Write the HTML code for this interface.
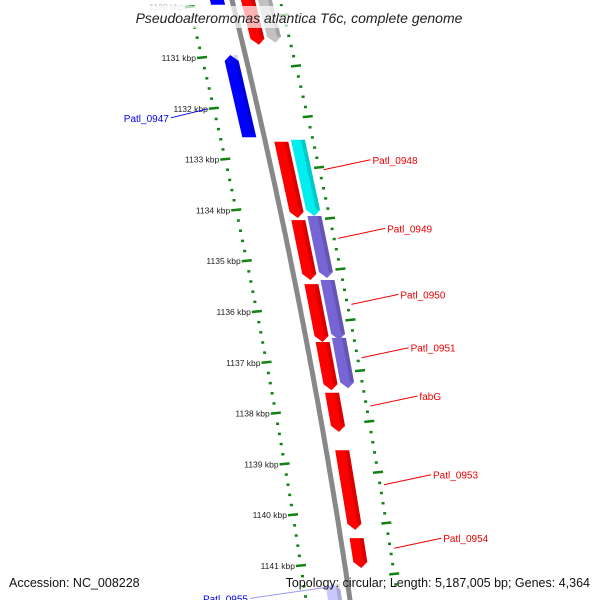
<!DOCTYPE html>
<html><head><meta charset="utf-8"><style>
html,body{margin:0;padding:0;background:#fff}
svg{display:block}
text{font-family:"Liberation Sans","DejaVu Sans",sans-serif}
</style></head><body>
<svg id="map" width="600" height="600" viewBox="0 0 600 600" xmlns="http://www.w3.org/2000/svg">
<g id="ticks"></g>
<path id="backbone" fill="none" stroke="#888" stroke-width="5"></path>
<g id="genes"></g>
<g id="labels"></g>
<rect x="110" y="6" width="380" height="22" fill="#fff" opacity="0.7"/>
<text x="299" y="23" text-anchor="middle" font-size="14" font-style="italic" fill="#222">Pseudoalteromonas atlantica T6c, complete genome</text>
<text x="9" y="587" font-size="12.5" fill="#111">Accession: NC_008228</text>
<text x="590" y="587" text-anchor="end" font-size="12.5" fill="#111">Topology: circular; Length: 5,187,005 bp; Genes: 4,364</text>
</svg>
<script>
const geneStarts=[1129.6,1129.6,1129.6,1130.94,1132.65,1132.61,1134.19,1134.11,1135.45,1135.37,1136.59,1136.51,1137.59,1138.72,1140.45,1141.35];
const geneEnds=[1130.74,1130.70,1129.95,1132.56,1134.15,1134.11,1135.37,1135.33,1136.59,1136.55,1137.54,1137.50,1138.36,1140.29,1141.04,1141.9];
const geneLanes=["in","out","rev","rev","in","out","in","out","in","out","in","out","in","in","in","rev"];
const geneColors=["#ff0000","#bbbbbb","#0000ff","#0000ff","#ff0000","#00eeee","#ff0000","#7765d6","#ff0000","#7765d6","#ff0000","#7765d6","#ff0000","#ff0000","#ff0000","#c8c8ff"];
const labelNames=["Patl_0947","Patl_0948","Patl_0949","Patl_0950","Patl_0951","fabG","Patl_0953","Patl_0954","Patl_0955"];
const labelKbp=[1132.0,1133.2,1134.55,1135.85,1136.9,1137.85,1139.4,1140.65,1141.4];
const tickLabels=[1130,1131,1132,1133,1134,1135,1136,1137,1138,1139,1140,1141];
const NS="http://www.w3.org/2000/svg";
function yOf(k){return 58+(k-1131)*50.8;}
function bx(y){return 232+0.2467*y-0.0000833*y*y;}
function mk(tag,attrs,parent){const e=document.createElementNS(NS,tag);for(const k in attrs)e.setAttribute(k,attrs[k]);parent.appendChild(e);return e;}
// backbone
let d="";for(let y=-5;y<=605;y+=5){d+=(y===-5?"M":"L")+bx(y).toFixed(1)+","+y+" ";}
document.getElementById("backbone").setAttribute("d",d);
// tick tracks
const tg=document.getElementById("ticks");
for(let k=1129.8;k<=1142.2;k+=0.2){
  const kk=Math.round(k*10)/10;const y=yOf(kk);if(y<-5||y>605)continue;
  const major=Math.abs(kk-Math.round(kk))<0.01;
  const xl=bx(y)-44;
  const l=mk("line",{x1:xl-(major?5:1.5),y1:y,x2:xl+(major?5:1.5),y2:y-(major?1:0),stroke:"#128212","stroke-width":"2.5"},tg);
  
  
  const yr=y-12;const xr=bx(yr)+48;const half=Math.abs(kk-Math.round(kk)-0.4)<0.01||major&&false;
  const r=mk("line",{x1:xr-(half?5:1.5),y1:yr,x2:xr+(half?5:1.5),y2:yr-(half?1:0),stroke:"#128212","stroke-width":"2.5"},tg);
  
  
}
tickLabels.forEach(k=>{const y=yOf(k);const t=mk("text",{x:bx(y)-50,y:y+3,"text-anchor":"end","font-size":"8.5",fill:k===1130?"#bbb":"#222"},tg);t.textContent=k+" kbp";
  
  });
// genes
const gg=document.getElementById("genes");
const offs={in:16,out:33,rev:-15};
for(let i=0;i<geneStarts.length;i++){
  const y0=yOf(geneStarts[i]),y1=yOf(geneEnds[i]);const o=offs[geneLanes[i]];const w=7;
  const fwd=geneLanes[i]!=="rev";let pts;
  if(fwd){const yb=y1-6;pts=[[bx(y0)+o-w,y0],[bx(y0)+o+w,y0],[bx(yb)+o+w,yb],[bx(y1)+o,y1],[bx(yb)+o-w,yb]];}
  else{const yt=y0+6;pts=[[bx(yt)+o-w,yt],[bx(y0)+o,y0],[bx(yt)+o+w,yt],[bx(y1)+o+w,y1],[bx(y1)+o-w,y1]];}
  const p=mk("polygon",{points:pts.map(q=>q[0].toFixed(1)+","+q[1].toFixed(1)).join(" "),fill:geneColors[i],opacity:(i===1||i===0&&false)?0.9:1},gg);
  
  
  const s=mk("polygon",{points:[[bx(y0)+o+w-4,y0],[bx(y0)+o+w,y0],[bx(y1-6)+o+w,y1-6],[bx(y1-6)+o+w-4,y1-6]].map(q=>q[0].toFixed(1)+","+q[1].toFixed(1)).join(" "),fill:"#000",opacity:0.15},gg);
  
  
}
// labels
const lg=document.getElementById("labels");
labelNames.forEach((n,i)=>{
  const y=yOf(labelKbp[i]);let col,x1,x2,y2,tx,anchor;
  if(i===0){col="#0000ee";x1=bx(y)-50;x2=bx(y)-87;y2=y+9;tx=x2-2;anchor="end";}
  else if(i===8){col="#0000ee";x1=bx(y)-15;x2=bx(y)-98;y2=y+12;tx=x2-2;anchor="end";}
  else{col="#ee0000";x1=bx(y)+52;x2=x1+47;y2=y-10;tx=x2+2;anchor="start";}
  const l=mk("line",{x1:x1,y1:y,x2:x2,y2:y2,stroke:(i===8?"#9999ff":col),"stroke-width":"1"},lg);
  
  
  const t=mk("text",{x:tx,y:y2+4,"text-anchor":anchor,"font-size":"10",fill:col},lg);t.textContent=n;
  
  
});
</script>
</body></html>
